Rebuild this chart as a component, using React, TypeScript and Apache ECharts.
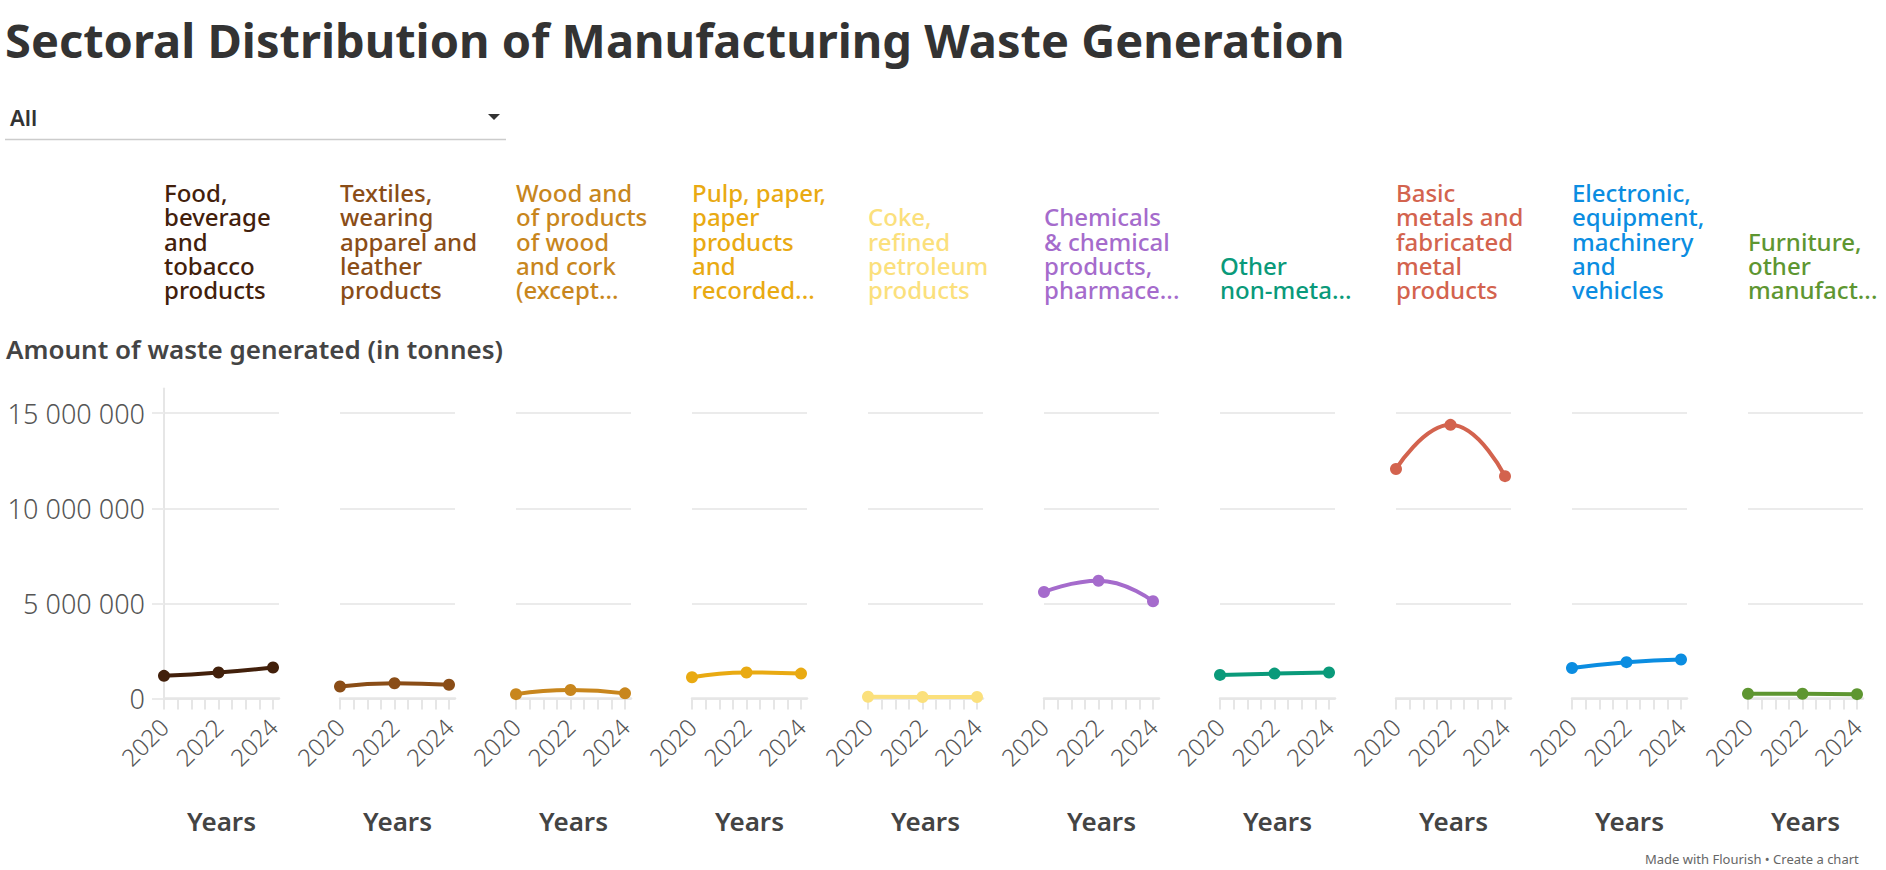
import React, { useEffect, useRef } from "react";
import * as echarts from "echarts";

// Years shown on every small multiple
const years = [2020, 2022, 2024];
const yearLabels = [2020, 2022, 2024];
const yearTicks = [2020, 2020.5, 2021, 2021.5, 2022, 2022.5, 2023, 2023.5, 2024];
const wasteTicks = [0, 5000000, 10000000, 15000000];

// Sector names as they appear above each panel
const sectorNames = [
  "Food,\nbeverage\nand\ntobacco\nproducts",
  "Textiles,\nwearing\napparel and\nleather\nproducts",
  "Wood and\nof products\nof wood\nand cork\n(except...",
  "Pulp, paper,\npaper\nproducts\nand\nrecorded...",
  "Coke,\nrefined\npetroleum\nproducts",
  "Chemicals\n& chemical\nproducts,\npharmace...",
  "Other\nnon-meta...",
  "Basic\nmetals and\nfabricated\nmetal\nproducts",
  "Electronic,\nequipment,\nmachinery\nand\nvehicles",
  "Furniture,\nother\nmanufact...",
];

const sectorColors = [
  "#42200b",
  "#8a4d17",
  "#c8861d",
  "#e9aa12",
  "#fbe07c",
  "#a56bcc",
  "#0a9a7a",
  "#d3634e",
  "#0b8de1",
  "#5e9631",
];

// Waste generated, tonnes, for 2020 / 2022 / 2024
const foodBeverage = [1190000, 1370000, 1630000];
const textiles = [630000, 800000, 720000];
const woodCork = [230000, 450000, 270000];
const pulpPaper = [1120000, 1370000, 1310000];
const cokePetroleum = [90000, 80000, 80000];
const chemicals = [5600000, 6190000, 5110000];
const otherNonMetallic = [1240000, 1310000, 1370000];
const basicMetals = [12070000, 14390000, 11690000];
const electronicMachinery = [1600000, 1910000, 2050000];
const furnitureOther = [250000, 250000, 230000];

const sectorValues = [
  foodBeverage,
  textiles,
  woodCork,
  pulpPaper,
  cokePetroleum,
  chemicals,
  otherNonMetallic,
  basicMetals,
  electronicMachinery,
  furnitureOther,
];

const FONT = "'Noto Sans', Lato, sans-serif";
const GRID_COLOR = "#ebebeb";

const withSpaces = (v: number) =>
  String(Math.round(v)).replace(/\B(?=(\d{3})+(?!\d))/g, " ");

export default function App() {
  const ref = useRef<HTMLDivElement>(null);

  useEffect(() => {
    if (!ref.current) return;
    const chart = echarts.init(ref.current, undefined, { renderer: "svg" });

    const panelLeft0 = 164;
    const panelStep = 176;
    const panelWidth = 115;
    const panelTop = 388.5;
    const panelHeight = 310;

    const grids: any[] = [];
    const xAxes: any[] = [];
    const yAxes: any[] = [];
    const series: any[] = [];
    const graphics: any[] = [];

    sectorNames.forEach((name, i) => {
      const left = panelLeft0 + panelStep * i;
      grids.push({ left, top: panelTop, width: panelWidth, height: panelHeight });

      xAxes.push({
        type: "value",
        gridIndex: i,
        min: 2020,
        max: 2024.22,
        interval: 0.5,
        splitLine: { show: false },
        axisLine: { show: true, lineStyle: { color: "#e6e6e6", width: 2.5 } },
        axisTick: {
          show: true,
          length: 11,
          customValues: yearTicks,
          lineStyle: { color: "#e6e6e6", width: 2 },
        },
        axisLabel: {
          customValues: yearLabels,
          rotate: 45,
          margin: 24,
          fontSize: 24,
          fontFamily: FONT,
          fontWeight: 300,
          color: "#555",
          formatter: (v: number) => String(v),
        },
        name: "Years",
        nameLocation: "middle",
        nameGap: 109,
        nameTextStyle: {
          fontSize: 26,
          fontWeight: 600,
          fontFamily: FONT,
          color: "#444",
        },
      });

      const first = i === 0;
      yAxes.push({
        type: "value",
        gridIndex: i,
        min: 0,
        max: 16300000,
        interval: 5000000,
        axisLine: { show: first, lineStyle: { color: "#e6e6e6", width: 2 } },
        axisTick: {
          show: first,
          length: 12,
          customValues: wasteTicks,
          lineStyle: { color: GRID_COLOR, width: 2 },
        },
        axisLabel: {
          show: first,
          customValues: wasteTicks,
          margin: 19,
          fontSize: 27,
          fontFamily: FONT,
          fontWeight: 300,
          color: "#555",
          formatter: (v: number) => withSpaces(v),
        },
        splitLine: {
          show: true,
          lineStyle: { color: GRID_COLOR, width: 2 },
        },
      });

      series.push({
        type: "line",
        name,
        xAxisIndex: i,
        yAxisIndex: i,
        data: years.map((y, k) => [y, sectorValues[i][k]]),
        smooth: true,
        symbol: "circle",
        symbolSize: 12,
        showSymbol: true,
        itemStyle: { color: sectorColors[i] },
        lineStyle: { color: sectorColors[i], width: 4 },
        emphasis: { disabled: true },
      });

      graphics.push({
        type: "text",
        x: left,
        y: 302,
        style: {
          text: name,
          fill: sectorColors[i],
          fontSize: 24,
          fontWeight: 500,
          fontFamily: FONT,
          lineHeight: 24.4,
          verticalAlign: "bottom",
          align: "left",
        },
      });
    });

    graphics.push(
      {
        type: "text",
        x: 5,
        y: 40,
        style: {
          text: "Sectoral Distribution of Manufacturing Waste Generation",
          fill: "#333",
          fontSize: 47,
          fontWeight: "bold",
          fontFamily: FONT,
          verticalAlign: "middle",
        },
      },
      {
        type: "text",
        x: 10,
        y: 117,
        style: {
          text: "All",
          fill: "#333",
          fontSize: 22,
          fontWeight: 600,
          fontFamily: FONT,
          verticalAlign: "middle",
        },
      },
      {
        type: "polygon",
        shape: { points: [[488, 114], [500, 114], [494, 120]] },
        style: { fill: "#333" },
      },
      {
        type: "line",
        shape: { x1: 5, y1: 139.5, x2: 506, y2: 139.5 },
        style: { stroke: "#cccccc", lineWidth: 1.5 },
      },
      {
        type: "text",
        x: 6,
        y: 349,
        style: {
          text: "Amount of waste generated (in tonnes)",
          fill: "#444",
          fontSize: 26,
          fontWeight: 600,
          fontFamily: FONT,
          verticalAlign: "middle",
        },
      },
      {
        type: "text",
        x: 1645,
        y: 852,
        style: {
          text: "Made with Flourish \u2022 Create a chart",
          fill: "#666",
          fontSize: 13,
          fontFamily: FONT,
          verticalAlign: "top",
        },
      }
    );

    chart.setOption({
      animation: false,
      backgroundColor: "#ffffff",
      grid: grids,
      xAxis: xAxes,
      yAxis: yAxes,
      series,
      graphic: graphics,
    });

    return () => chart.dispose();
  }, []);

  return (
    <div
      ref={ref}
      style={{ position: "absolute", left: 0, top: 0, width: 1886, height: 870 }}
    />
  );
}
